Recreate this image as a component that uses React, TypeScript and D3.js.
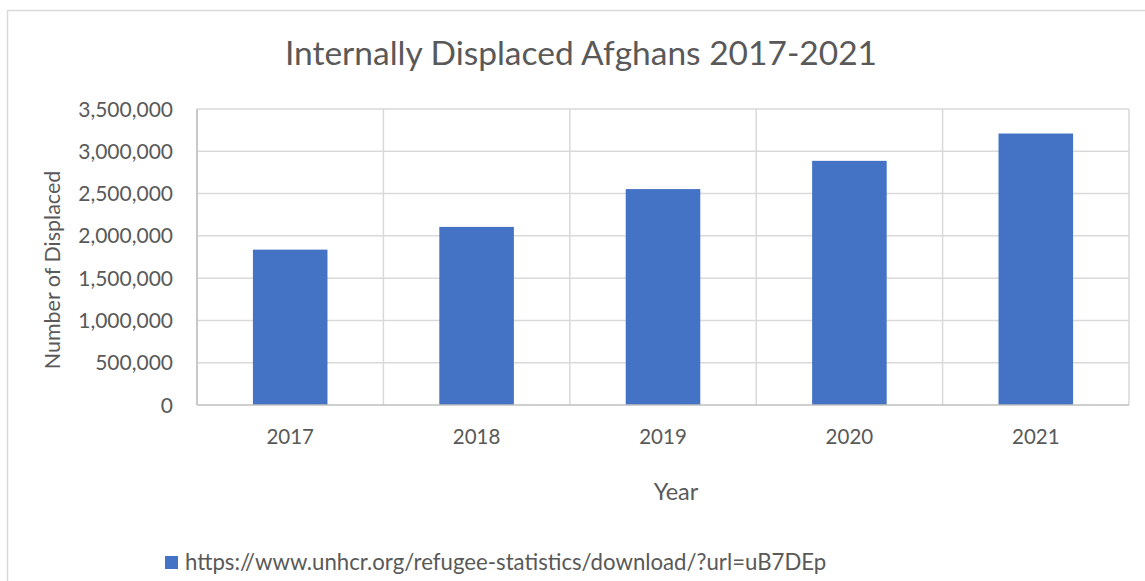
import * as d3 from "d3";

const years = ["2017", "2018", "2019", "2020", "2021"];
const displaced = [1837000, 2106000, 2553000, 2887000, 3210000];
const yTicks = [0, 500000, 1000000, 1500000, 2000000, 2500000, 3000000, 3500000];
const seriesName = "https://www.unhcr.org/refugee-statistics/download/?url=uB7DEp";

const W = 1145;
const H = 581;
const font = "Lato, 'Open Sans', sans-serif";
const textColor = "#595959";
const barColor = "#4472c4";

const App = () => {
  const left = 197;
  const right = 1129;
  const top = 109;
  const bottom = 405;

  const x = d3.scaleBand().domain(years).range([left, right]).paddingInner(0).paddingOuter(0);
  const y = d3.scaleLinear().domain([0, 3500000]).range([bottom, top]);
  const fmt = d3.format(",");
  const barW = x.bandwidth() * 0.4;
  const edges = years.map((yr) => x(yr) as number).concat([right]);

  return (
    <svg width={W} height={H} style={{ position: "absolute", left: 0, top: 0 }} fontFamily={font}>
      <rect x={0} y={0} width={W} height={H} fill="#fff" />
      <rect x={7.5} y={10.5} width={W + 20} height={H + 20} fill="none" stroke="#d9d9d9" strokeWidth={1.5} />

      <text x={581} y={65} textAnchor="middle" fontSize={33.5} fill={textColor}>
        Internally Displaced Afghans 2017-2021
      </text>

      {/* horizontal gridlines */}
      {yTicks.slice(1).map((t) => (
        <line key={"h" + t} x1={left} x2={right} y1={y(t)} y2={y(t)} stroke="#d9d9d9" strokeWidth={1.5} />
      ))}
      {/* vertical gridlines at category edges */}
      {edges.map((ex, i) => (
        <line key={"v" + i} x1={ex} x2={ex} y1={top} y2={bottom} stroke="#d9d9d9" strokeWidth={1.5} />
      ))}

      {years.map((yr, i) => (
        <rect
          key={yr}
          x={(x(yr) as number) + (x.bandwidth() - barW) / 2}
          y={y(displaced[i])}
          width={barW}
          height={bottom - y(displaced[i])}
          fill={barColor}
        />
      ))}

      <line x1={left} x2={left} y1={top} y2={bottom} stroke="#bfbfbf" strokeWidth={1.5} />
      <line x1={left} x2={right} y1={bottom} y2={bottom} stroke="#bfbfbf" strokeWidth={1.5} />

      {yTicks.map((t) => (
        <text key={"yt" + t} x={173} y={y(t)} dy="0.36em" textAnchor="end" fontSize={21} fill={textColor}>
          {fmt(t)}
        </text>
      ))}

      {years.map((yr) => (
        <text key={"xt" + yr} x={(x(yr) as number) + x.bandwidth() / 2} y={444} textAnchor="middle" fontSize={20.5} fill={textColor}>
          {yr}
        </text>
      ))}

      <text x={676} y={500} textAnchor="middle" fontSize={23.5} fill={textColor}>
        Year
      </text>
      <text transform="translate(60,270) rotate(-90)" textAnchor="middle" fontSize={21.5} fill={textColor}>
        Number of Displaced
      </text>

      <rect x={165} y={556} width={13} height={13} fill={barColor} />
      <text x={185} y={570} fontSize={22.2} fill={textColor}>
        {seriesName}
      </text>
    </svg>
  );
};

export default App;
